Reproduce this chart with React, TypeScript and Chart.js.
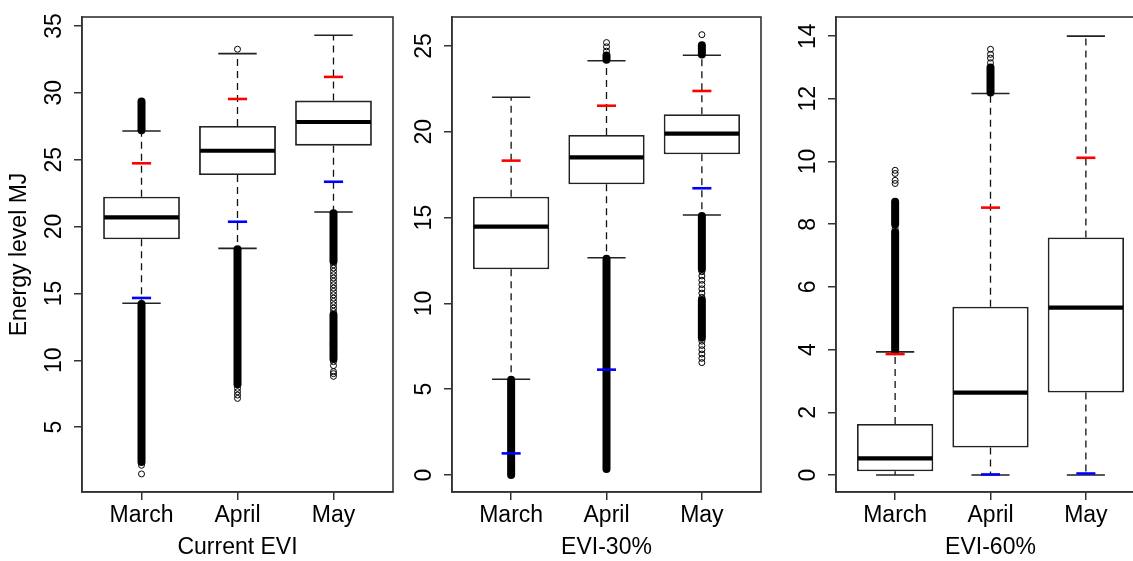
import React, { useEffect, useRef } from 'react';
import { Chart, registerables } from 'chart.js';

Chart.register(...registerables);

// ---------------- DATA ----------------
const months = ['March', 'April', 'May'];

// Panel 1: Current EVI
const curTitle = 'Current EVI';
const curYTicks = [5, 10, 15, 20, 25, 30, 35];
const curQ1 = [19.05, 23.86, 26.05];
const curMedian = [20.69, 25.67, 27.82];
const curQ3 = [22.23, 27.52, 29.42];
const curWhiskerLow = [14.26, 18.37, 21.09];
const curWhiskerHigh = [27.15, 32.93, 34.3];
const curRed = [24.73, 29.54, 31.19];
const curBlue = [14.66, 20.36, 23.35];
const curDenseMarch = [[27.2, 29.35], [2.4, 14.2]];
const curDenseApril = [[8.2, 18.3]];
const curDenseMay = [[17.4, 21.0], [11.3, 13.4], [10.1, 11.15]];
const curOutMarch = [2.15, 1.5];
const curOutApril = [33.26, 7.9, 7.65, 7.4, 7.15];
const curOutMay = [17.15, 16.9, 16.65, 16.4, 16.15, 15.9, 15.65, 15.4, 15.15, 14.9, 14.65, 14.4, 14.15, 13.9, 13.65, 9.9, 9.6, 9.15, 9.0, 8.8];

// Panel 2: EVI-30%
const e30Title = 'EVI-30%';
const e30YTicks = [0, 5, 10, 15, 20, 25];
const e30Q1 = [11.99, 16.94, 18.69];
const e30Median = [14.47, 18.51, 19.89];
const e30Q3 = [16.22, 19.81, 21.02];
const e30WhiskerLow = [5.58, 12.66, 15.15];
const e30WhiskerHigh = [22.01, 24.14, 24.46];
const e30Red = [18.32, 21.52, 22.38];
const e30Blue = [1.26, 6.14, 16.71];
const e30DenseMarch = [[0.0, 5.55]];
const e30DenseApril = [[24.2, 24.45], [0.35, 12.6]];
const e30DenseMay = [[24.5, 25.05], [12.0, 15.1], [8.0, 10.2]];
const e30OutMarch: number[] = [];
const e30OutApril = [24.7, 24.95, 25.2];
const e30OutMay = [25.66, 11.85, 11.6, 11.35, 11.1, 10.85, 10.6, 10.35, 7.8, 7.55, 7.3, 7.05, 6.8, 6.55];

// Panel 3: EVI-60%
const e60Title = 'EVI-60%';
const e60YTicks = [0, 2, 4, 6, 8, 10, 12, 14];
const e60Q1 = [0.12, 0.88, 2.63];
const e60Median = [0.53, 2.63, 5.34];
const e60Q3 = [1.63, 5.37, 7.58];
const e60WhiskerLow = [0, 0, 0];
const e60WhiskerHigh = [3.93, 12.17, 14.0];
const e60Red = [3.86, 8.53, 10.12];
const e60Blue: (number | null)[] = [null, 0.02, 0.05];
const e60DenseMarch = [[3.95, 7.75], [8.0, 8.72]];
const e60DenseApril = [[12.2, 13.0]];
const e60DenseMay: number[][] = [];
const e60OutMarch = [7.87, 9.3, 9.4, 9.62, 9.72];
const e60OutApril = [13.15, 13.3, 13.42, 13.58];
const e60OutMay: number[] = [];

const yAxisTitle = 'Energy level MJ';

// ---------------- LAYOUT / STYLE ----------------
const FONT = '"Liberation Sans", Arial, Helvetica, sans-serif';
const FONT_SIZE = 23;
const H = 561;

type Panel = {
  title: string;
  yTitle?: string;
  yTicks: number[];
  yMin: number;
  yMax: number;
  q1: number[];
  med: number[];
  q3: number[];
  wLo: number[];
  wHi: number[];
  red: (number | null)[];
  blue: (number | null)[];
  dense: number[][][];
  out: number[][];
  left: number;
  width: number;
  yAxisWidth: number;
  padRight: number;
};

const panels: Panel[] = [
  {
    title: curTitle, yTitle: yAxisTitle, yTicks: curYTicks, yMin: 0.15, yMax: 35.67,
    q1: curQ1, med: curMedian, q3: curQ3, wLo: curWhiskerLow, wHi: curWhiskerHigh,
    red: curRed, blue: curBlue,
    dense: [curDenseMarch, curDenseApril, curDenseMay],
    out: [curOutMarch, curOutApril, curOutMay],
    left: 0, width: 400, yAxisWidth: 82, padRight: 7,
  },
  {
    title: e30Title, yTicks: e30YTicks, yMin: -0.99, yMax: 26.69,
    q1: e30Q1, med: e30Median, q3: e30Q3, wLo: e30WhiskerLow, wHi: e30WhiskerHigh,
    red: e30Red, blue: e30Blue,
    dense: [e30DenseMarch, e30DenseApril, e30DenseMay],
    out: [e30OutMarch, e30OutApril, e30OutMay],
    left: 400, width: 375, yAxisWidth: 52, padRight: 14,
  },
  {
    title: e60Title, yTicks: e60YTicks, yMin: -0.54, yMax: 14.61,
    q1: e60Q1, med: e60Median, q3: e60Q3, wLo: e60WhiskerLow, wHi: e60WhiskerHigh,
    red: e60Red, blue: e60Blue,
    dense: [e60DenseMarch, e60DenseApril, e60DenseMay],
    out: [e60OutMarch, e60OutApril, e60OutMay],
    left: 775, width: 390, yAxisWidth: 61, padRight: 20,
  },
];

function makePlugin(p: Panel) {
  return {
    id: 'boxExtras',
    afterDatasetsDraw(chart: any) {
      const ctx = chart.ctx as CanvasRenderingContext2D;
      const xs = chart.scales.x;
      const ys = chart.scales.y;
      const bars = chart.getDatasetMeta(0).data;
      ctx.save();
      months.forEach((_, i) => {
        const bar = bars[i];
        const cx = xs.getPixelForValue(i + 1);
        const bw = bar ? bar.width : 77;
        // whiskers
        ctx.strokeStyle = '#111';
        ctx.lineWidth = 1.3;
        ctx.setLineDash([7, 5]);
        ctx.beginPath();
        ctx.moveTo(cx, ys.getPixelForValue(p.q3[i]));
        ctx.lineTo(cx, ys.getPixelForValue(p.wHi[i]));
        if (p.wLo[i] < p.q1[i]) {
          ctx.moveTo(cx, ys.getPixelForValue(p.q1[i]));
          ctx.lineTo(cx, ys.getPixelForValue(p.wLo[i]));
        }
        ctx.stroke();
        ctx.setLineDash([]);
        // caps
        ctx.lineWidth = 1.6;
        ctx.strokeStyle = '#222';
        ctx.beginPath();
        [p.wHi[i], p.wLo[i]].forEach((v) => {
          const y = ys.getPixelForValue(v);
          ctx.moveTo(cx - bw / 4, y);
          ctx.lineTo(cx + bw / 4, y);
        });
        ctx.stroke();
        // median
        ctx.lineWidth = 4.2;
        ctx.strokeStyle = '#000';
        ctx.beginPath();
        const ym = ys.getPixelForValue(p.med[i]);
        ctx.moveTo(cx - bw / 2 + 1, ym);
        ctx.lineTo(cx + bw / 2 - 1, ym);
        ctx.stroke();
        // dense outlier bands
        ctx.lineWidth = 8;
        ctx.lineCap = 'round';
        ctx.strokeStyle = '#000';
        p.dense[i].forEach(([a, b]) => {
          ctx.beginPath();
          ctx.moveTo(cx, ys.getPixelForValue(a));
          ctx.lineTo(cx, ys.getPixelForValue(b));
          ctx.stroke();
        });
        ctx.lineCap = 'butt';
        // red/blue markers
        ctx.lineWidth = 2.6;
        const mk = (v: number | null, col: string) => {
          if (v === null || v === undefined) return;
          const y = ys.getPixelForValue(v);
          ctx.strokeStyle = col;
          ctx.beginPath();
          ctx.moveTo(cx - bw / 8, y);
          ctx.lineTo(cx + bw / 8, y);
          ctx.stroke();
        };
        mk(p.red[i], '#ff0000');
        mk(p.blue[i], '#0000ff');
      });
      // frame
      const a = chart.chartArea;
      ctx.strokeStyle = '#333';
      ctx.lineWidth = 1.6;
      ctx.strokeRect(a.left, a.top, a.right - a.left, a.bottom - a.top);
      ctx.restore();
    },
  };
}

function PanelChart({ p }: { p: Panel }) {
  const ref = useRef<HTMLCanvasElement | null>(null);
  useEffect(() => {
    if (!ref.current) return;
    const font = { family: FONT, size: FONT_SIZE };
    const outlierData: { x: number; y: number }[] = [];
    p.out.forEach((arr, i) => arr.forEach((v) => outlierData.push({ x: i + 1, y: v })));
    const chart = new Chart(ref.current, {
      type: 'bar',
      data: {
        datasets: [
          {
            type: 'bar',
            data: months.map((_, i) => ({ x: i + 1, y: [p.q1[i], p.q3[i]] })) as any,
            backgroundColor: '#ffffff',
            borderColor: '#222',
            borderWidth: 1.8,
            borderSkipped: false,
            categoryPercentage: 0.8,
            barPercentage: 1,
          } as any,
          {
            type: 'scatter',
            data: outlierData,
            pointRadius: 3,
            pointHoverRadius: 3,
            pointBorderWidth: 1,
            pointBorderColor: '#000',
            pointBackgroundColor: 'rgba(0,0,0,0)',
          } as any,
        ],
      },
      options: {
        responsive: false,
        animation: false,
        events: [],
        layout: { padding: { top: 17, right: p.padRight, bottom: 0, left: 0 } },
        plugins: { legend: { display: false }, tooltip: { enabled: false } },
        scales: {
          x: {
            type: 'linear',
            min: 0.38,
            max: 3.62,
            offset: false,
            bounds: 'data',
            afterBuildTicks: (s: any) => {
              s.ticks = months.map((_, i) => ({ value: i + 1 }));
            },
            afterFit: (s: any) => {
              s.height = H - 492;
              s.paddingLeft = 0;
              s.paddingRight = 0;
            },
            grid: { display: true, offset: false, drawOnChartArea: false, drawTicks: true, tickLength: 8, color: '#333', lineWidth: 1.5 },
            border: { display: true, color: '#333', width: 1.5 },
            ticks: {
              autoSkip: false,
              minRotation: 0,
              maxRotation: 0,
              padding: 1.5,
              color: '#000',
              font,
              callback: (v: any) => months[Math.round(Number(v)) - 1] ?? '',
            },
            title: { display: true, text: p.title, color: '#000', font, padding: { top: 0, bottom: 0 } },
          },
          y: {
            type: 'linear',
            min: p.yMin,
            max: p.yMax,
            bounds: 'data',
            afterBuildTicks: (s: any) => {
              s.ticks = p.yTicks.map((v) => ({ value: v }));
            },
            afterFit: (s: any) => {
              s.width = p.yAxisWidth;
              s.paddingTop = 0;
              s.paddingBottom = 0;
            },
            grid: { display: true, drawOnChartArea: false, drawTicks: true, tickLength: 8, color: '#333', lineWidth: 1.5 },
            border: { display: true, color: '#333', width: 1.5 },
            ticks: {
              autoSkip: false,
              minRotation: 90,
              maxRotation: 90,
              crossAlign: 'center',
              padding: 6.2,
              color: '#000',
              font,
            },
            title: p.yTitle
              ? { display: true, text: p.yTitle, color: '#000', font, padding: { top: 5.9, bottom: 0 } }
              : { display: false },
          },
        },
      } as any,
      plugins: [makePlugin(p)],
    });
    return () => chart.destroy();
  }, [p]);
  return (
    <canvas
      ref={ref}
      width={p.width}
      height={H}
      style={{ position: 'absolute', left: p.left, top: 0, width: p.width, height: H }}
    />
  );
}

export default function App() {
  return (
    <div
      style={{
        position: 'fixed',
        left: 0,
        top: 0,
        width: 1133,
        height: H,
        overflow: 'hidden',
        background: '#ffffff',
      }}
    >
      {panels.map((p, i) => (
        <PanelChart key={i} p={p} />
      ))}
    </div>
  );
}
